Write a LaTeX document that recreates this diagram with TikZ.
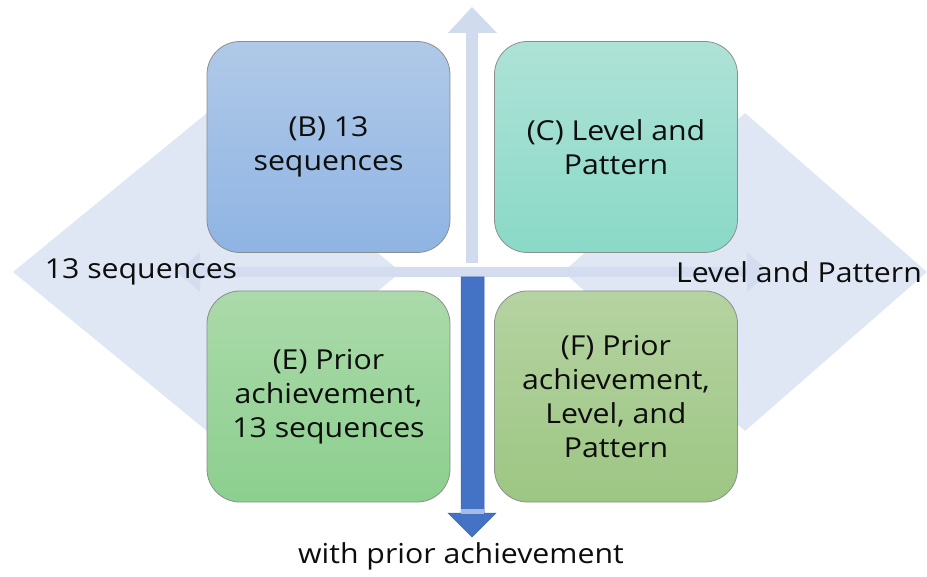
\documentclass[tikz,border=0pt]{standalone}
\usepackage{fontspec}
\setmainfont{Open Sans}[FakeStretch=1.1]
\definecolor{bgdia}{HTML}{DEE7F3}
\definecolor{hband}{HTML}{D3DDEF}
\definecolor{vband}{HTML}{D0DBEE}
\definecolor{darkarrow}{HTML}{4472C4}
\definecolor{darkedge}{HTML}{3B64AE}
\definecolor{btop}{HTML}{B0C9E8}\definecolor{bbot}{HTML}{8FB4E3}
\definecolor{ctop}{HTML}{AEE2D7}\definecolor{cbot}{HTML}{8AD9C7}
\definecolor{etop}{HTML}{ABDAAA}\definecolor{ebot}{HTML}{8CCF8E}
\definecolor{ftop}{HTML}{B5D3A1}\definecolor{fbot}{HTML}{9DC683}
\definecolor{boxedge}{HTML}{8A8F8C}
\begin{document}
\begin{tikzpicture}[x=1pt,y=-1pt,
  quad/.style={draw=boxedge,line width=0.8pt,rounded corners=33pt,
    minimum width=243pt,minimum height=211pt,align=center,
    font=\fontsize{27.5}{34}\selectfont,text=black!95,inner sep=0pt},
  lab/.style={font=\fontsize{27.5}{34}\selectfont,text=black!95,inner sep=0pt}]
\useasboundingbox (0,0) rectangle (927,577);
% background diamonds
\fill[bgdia] (13,272) -- (207,113) -- (401,272) -- (207,431) -- cycle;
\fill[bgdia] (927,272) -- (745,113) -- (563,272) -- (745,431) -- cycle;
% horizontal double arrow
\fill[hband] (177,272) -- (200,252) -- (200,267) -- (747,267) -- (747,252) -- (770,272)
  -- (747,292) -- (747,277) -- (200,277) -- (200,292) -- cycle;
% top arrow
\fill[vband] (472,7) -- (497,33) -- (478,33) -- (478,263) -- (466,263) -- (466,33) -- (448,33) -- cycle;
% bottom arrow
\coordinate (dtip) at (472,537);
\fill[darkarrow,draw=darkedge,line width=0.5pt] (461,277) -- (484,277) -- (484,513) -- (496,513)
  -- (dtip) -- (448,513) -- (461,513) -- cycle;
\fill[vband!70!darkarrow] (461,509) rectangle (484,514);
% boxes
\node[quad,top color=btop,bottom color=bbot] (B) at (328.5,147) {(B) 13\\sequences};
\node[quad,top color=ctop,bottom color=cbot] (C) at (616,147) {(C) Level and\\Pattern};
\node[quad,top color=etop,bottom color=ebot] (E) at (328.5,396.5) {(E) Prior\\achievement,\\13 sequences};
\node[quad,top color=ftop,bottom color=fbot] (F) at (616,396.5) {(F) Prior\\achievement,\\Level, and\\Pattern};
% labels
\node[lab] (L) at (141,272) {13 sequences};
\node[lab] (R) at (799,272) {Level and Pattern};
\node[lab] (D) at (461,556) {with prior achievement};
\end{tikzpicture}
\end{document}
